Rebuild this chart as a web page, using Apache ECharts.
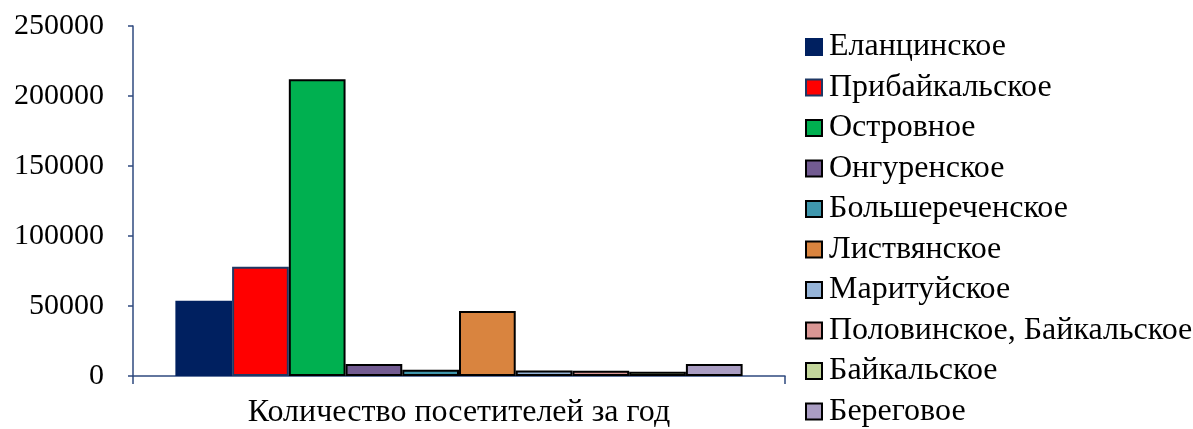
<!DOCTYPE html>
<html><head><meta charset="utf-8">
<script src="https://cdn.jsdelivr.net/npm/echarts@6/dist/echarts.min.js"></script>
<style>html,body{margin:0;padding:0;background:#fff}#c{width:1193px;height:429px}</style>
</head><body><div id="c"></div>
<script>
const categories = ['Количество посетителей за год'];
const seriesNames = ['Еланцинское','Прибайкальское','Островное','Онгуренское','Большереченское','Листвянское','Маритуйское','Половинское, Байкальское','Байкальское','Береговое'];
const seriesValues = [53800, 78000, 212000, 8600, 4500, 46400, 4000, 3700, 3000, 8600];
const yTicks = [0, 50000, 100000, 150000, 200000, 250000];
const colors = ['#002060','#FF0000','#00B050','#725B91','#3F97AD','#D9843F','#95B3D7','#D99694','#C3D69B','#AA9DC3'];
const borders = ['#002060','#1F3864','#000','#000','#000','#000','#000','#000','#000','#000'];
const FONT = 'Liberation Serif';
const chart = echarts.init(document.getElementById('c'));
chart.setOption({
  animation:false,
  textStyle:{fontFamily:FONT},
  grid:{left:133,right:408,top:26,bottom:52,containLabel:false},
  legend:{orient:'vertical',left:805,top:31,padding:0,itemWidth:16,itemHeight:16,itemGap:8.5,
    icon:'rect',
    textStyle:{fontFamily:FONT,fontSize:32,color:'#000',lineHeight:32,padding:[0,0,0,2]},
    data:seriesNames},
  xAxis:{type:'category',data:categories,
    axisLine:{lineStyle:{color:'#2F4A7F',width:1.5}},
    axisTick:{show:true,length:8,lineStyle:{color:'#2F4A7F',width:1.5}},
    axisLabel:{fontFamily:FONT,fontSize:32,color:'#000',margin:21}},
  yAxis:{type:'value',min:yTicks[0],max:yTicks[yTicks.length-1],interval:yTicks[1]-yTicks[0],
    splitLine:{show:false},
    axisLine:{show:true,lineStyle:{color:'#2F4A7F',width:1.5}},
    axisTick:{show:true,length:5,lineStyle:{color:'#2F4A7F',width:1.5}},
    axisLabel:{fontFamily:FONT,fontSize:30,color:'#000',margin:29,formatter:v=>String(v)}},
  series:seriesNames.map((n,i)=>({
    name:n,type:'bar',data:[seriesValues[i]],
    barGap:'0%',barCategoryGap:'13%',
    itemStyle:{color:colors[i],borderColor:borders[i],borderWidth:2}
  }))
});
</script></body></html>
